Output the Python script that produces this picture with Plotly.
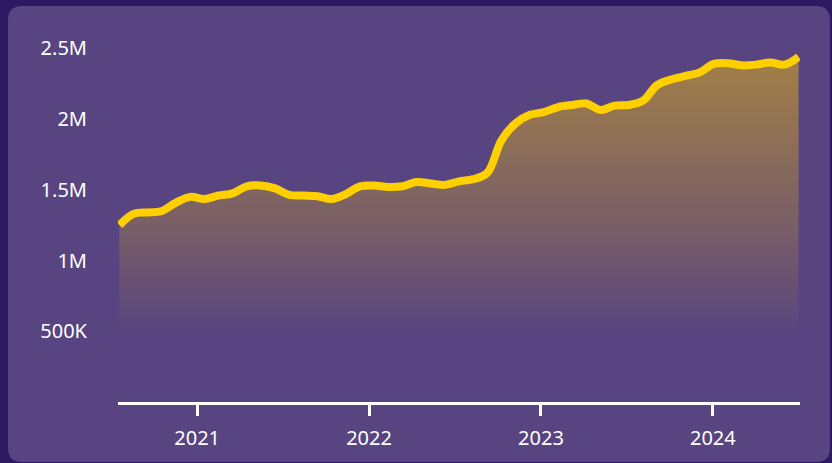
import plotly.graph_objects as go
import pandas as pd

# ---- data ----
months = pd.date_range("2020-07-20", "2024-07-01", periods=49)
values = [
    1250000, 1330000, 1340000, 1350000, 1410000, 1450000,
    1435000, 1460000, 1475000, 1525000, 1530000, 1510000,
    1465000, 1460000, 1455000, 1435000, 1470000, 1525000,
    1530000, 1520000, 1525000, 1555000, 1545000, 1535000,
    1560000, 1575000, 1620000, 1850000, 1970000, 2030000,
    2050000, 2085000, 2100000, 2110000, 2065000, 2095000,
    2100000, 2130000, 2240000, 2280000, 2305000, 2330000,
    2390000, 2395000, 2380000, 2385000, 2400000, 2385000,
    2440000,
]
y_tickvals = [500000, 1000000, 1500000, 2000000, 2500000]
y_ticktext = ["500K", "1M", "1.5M", "2M", "2.5M"]
x_tickvals = ["2021-01-01", "2022-01-01", "2023-01-01", "2024-01-01"]
x_ticktext = ["2021", "2022", "2023", "2024"]

# ---- style ----
W, H = 832, 463
ML, MR, MT, MB = 118, 32, 42, 61
OUTER = "#2d1862"
PANEL = "#574480"
GOLD = "#FFD000"
FONT = "Noto Sans"

fig = go.Figure()
fig.add_trace(go.Scatter(
    x=months, y=values, mode="lines",
    line=dict(color=GOLD, width=8, shape="spline", smoothing=1.0),
    fill="tozeroy",
    fillgradient=dict(
        type="vertical",
        colorscale=[[0, "rgba(255,200,0,0)"], [0.4, "rgba(255,200,0,0.2)"], [1, "rgba(255,200,0,0.45)"]],
        start=450000, stop=2450000,
    ),
    hoverinfo="skip",
))

# rounded panel in paper coordinates
pw, ph = W - ML - MR, H - MT - MB
def px(x):
    return (x - ML) / pw
def py(y):
    return (H - MB - y) / ph
x0, y0, x1, y1, r = 8, 6, 830, 462, 14
path = (
    f"M {px(x0 + r)} {py(y0)} L {px(x1 - r)} {py(y0)} Q {px(x1)} {py(y0)} {px(x1)} {py(y0 + r)} "
    f"L {px(x1)} {py(y1 - r)} Q {px(x1)} {py(y1)} {px(x1 - r)} {py(y1)} "
    f"L {px(x0 + r)} {py(y1)} Q {px(x0)} {py(y1)} {px(x0)} {py(y1 - r)} "
    f"L {px(x0)} {py(y0 + r)} Q {px(x0)} {py(y0)} {px(x0 + r)} {py(y0)} Z"
)
fig.add_shape(type="path", path=path, xref="paper", yref="paper",
              fillcolor=PANEL, line=dict(width=0), layer="below")

fig.update_layout(
    width=W, height=H,
    margin=dict(l=ML, r=MR, t=MT, b=MB),
    paper_bgcolor=OUTER, plot_bgcolor="rgba(0,0,0,0)",
    showlegend=False,
    font=dict(family=FONT, color="white", size=19),
    xaxis=dict(
        range=["2020-07-17", "2024-07-04"],
        showgrid=False, zeroline=False,
        showline=True, linecolor="white", linewidth=3,
        ticks="outside", ticklen=11, tickwidth=3, tickcolor="white",
        tickvals=x_tickvals, ticktext=x_ticktext,
        ticklabelstandoff=5,
        tickfont=dict(family=FONT, size=20, color="white"),
    ),
    yaxis=dict(
        range=[0, 2545000],
        showgrid=False, zeroline=False, showline=False,
        tickvals=y_tickvals, ticktext=y_ticktext,
        ticks="", ticklabelstandoff=30,
        tickfont=dict(family=FONT, size=20, color="white"),
    ),
)

fig.write_html(
    "out.html",
    config={"displayModeBar": False},
    post_script="document.body.style.margin='0';document.body.style.background='%s';" % OUTER,
)
